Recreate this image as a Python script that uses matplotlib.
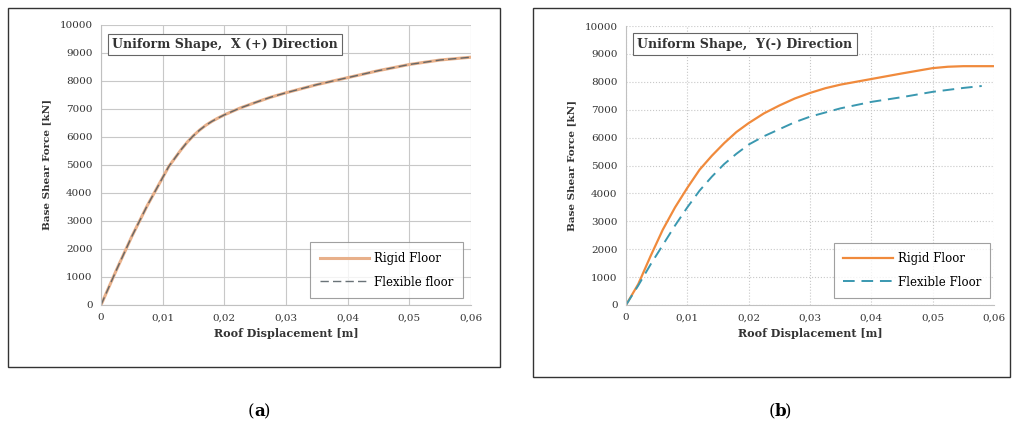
import matplotlib
matplotlib.use("Agg")
import matplotlib.pyplot as plt
from matplotlib.patches import Rectangle
from matplotlib.ticker import FuncFormatter

# ---- data ----
xa = [0, 0.0025, 0.005, 0.0075, 0.009, 0.01, 0.011, 0.012, 0.013, 0.014, 0.015, 0.016, 0.017, 0.018, 0.019,
      0.02, 0.0225, 0.025, 0.0275, 0.03, 0.035, 0.04, 0.045, 0.05, 0.055, 0.06]
ya_rigid = [0, 1250, 2450, 3550, 4150, 4550, 4950, 5250, 5550, 5820, 6050, 6250, 6420, 6560, 6680,
            6790, 7030, 7230, 7420, 7580, 7870, 8120, 8370, 8590, 8750, 8850]
ya_flex = [0, 1250, 2450, 3550, 4150, 4550, 4950, 5250, 5550, 5820, 6050, 6250, 6420, 6560, 6680,
           6790, 7030, 7230, 7420, 7580, 7870, 8120, 8370, 8590, 8750, 8850]

xb_rigid = [0, 0.002, 0.004, 0.006, 0.008, 0.01, 0.012, 0.014, 0.016, 0.018, 0.02, 0.0225, 0.025, 0.0275,
            0.03, 0.0325, 0.035, 0.04, 0.045, 0.05, 0.0525, 0.055, 0.06]
yb_rigid = [0, 750, 1750, 2700, 3500, 4200, 4850, 5350, 5800, 6200, 6520, 6870, 7150, 7400,
            7600, 7770, 7900, 8100, 8300, 8490, 8540, 8560, 8560]
xb_flex = [0, 0.002, 0.004, 0.006, 0.008, 0.01, 0.012, 0.014, 0.016, 0.018, 0.02, 0.0225, 0.025, 0.0275,
           0.03, 0.035, 0.04, 0.045, 0.05, 0.055, 0.058]
yb_flex = [0, 700, 1450, 2150, 2850, 3500, 4100, 4600, 5050, 5420, 5750, 6050, 6300, 6550,
           6750, 7050, 7280, 7450, 7640, 7780, 7850]

xticks = [0, 0.01, 0.02, 0.03, 0.04, 0.05, 0.06]
yticks = list(range(0, 10001, 1000))
titles = ["Uniform Shape,  X (+) Direction", "Uniform Shape,  Y(-) Direction"]
legend_a = ["Rigid Floor", "Flexible floor"]
legend_b = ["Rigid Floor", "Flexible Floor"]
panel_labels = ["a", "b"]

plt.rcParams['font.family'] = ['DejaVu Serif']
fig = plt.figure(figsize=(10.13, 4.32), dpi=100)
W, H = 1013, 432

def fr(x0, y0, x1, y1):
    return [x0 / W, 1 - y1 / H, (x1 - x0) / W, (y1 - y0) / H]

# outer frames
for (x0, y0, x1, y1) in [(8, 8, 500, 367), (533, 8, 1010, 377)]:
    fig.patches.append(Rectangle((x0 / W, 1 - y1 / H), (x1 - x0) / W, (y1 - y0) / H,
                                 transform=fig.transFigure, fill=False,
                                 edgecolor='#333333', linewidth=1.0))

fmt_x = FuncFormatter(lambda v, p: "0" if v == 0 else ("%.2f" % v).replace(".", ","))

def style(ax, grid_ls):
    ax.set_xlim(0, 0.06)
    ax.set_ylim(0, 10000)
    ax.set_xticks(xticks)
    ax.set_yticks(yticks)
    ax.xaxis.set_major_formatter(fmt_x)
    ax.tick_params(labelsize=7.5, length=0, pad=6, colors='#333333')
    ax.grid(True, color='#c8c8c8', linestyle=grid_ls, linewidth=0.8)
    for s in ['top', 'right']:
        ax.spines[s].set_visible(False)
    for s in ['left', 'bottom']:
        ax.spines[s].set_color('#c0c0c0')
    ax.set_xlabel("Roof Displacement [m]", fontsize=8, fontweight='bold', color='#333333', labelpad=4)
    ax.set_ylabel("Base Shear Force [kN]", fontsize=7.5, fontweight='bold', color='#333333', labelpad=6)
    ax.set_axisbelow(True)

# panel a
ax1 = fig.add_axes(fr(101, 25, 471, 305))
style(ax1, '-')
ax1.plot(xa, ya_rigid, color='#e8b08a', lw=2.2, label=legend_a[0])
ax1.plot(xa, ya_flex, color='#505a60', lw=1.0, dashes=(6, 3), label=legend_a[1], alpha=0.85)
ax1.text(0.03, 0.93, titles[0], transform=ax1.transAxes, fontsize=9, fontweight='bold',
         color='#333333', va='center', ha='left',
         bbox=dict(boxstyle='square,pad=0.35', fc='white', ec='#666666', lw=0.8))
leg = ax1.legend(loc='lower right', fontsize=8.5, frameon=True, fancybox=False,
                 edgecolor='#888888', borderpad=0.8, handlelength=4.2, labelspacing=0.9,
                 handletextpad=0.4, borderaxespad=0, bbox_to_anchor=(0.978, 0.025))
leg.get_frame().set_linewidth(0.8)

# panel b
ax2 = fig.add_axes(fr(626, 26, 994, 305))
style(ax2, ':')
ax2.plot(xb_rigid, yb_rigid, color='#f08a3c', lw=1.6, label=legend_b[0])
ax2.plot(xb_flex, yb_flex, color='#3a98b0', lw=1.4, dashes=(6, 3.5), label=legend_b[1])
ax2.text(0.03, 0.935, titles[1], transform=ax2.transAxes, fontsize=9, fontweight='bold',
         color='#333333', va='center', ha='left',
         bbox=dict(boxstyle='square,pad=0.35', fc='white', ec='#666666', lw=0.8))
leg2 = ax2.legend(loc='lower right', fontsize=8.5, frameon=True, fancybox=False,
                  edgecolor='#888888', borderpad=0.8, handlelength=4.2, labelspacing=0.9,
                  handletextpad=0.4, borderaxespad=0, bbox_to_anchor=(0.99, 0.025))
leg2.get_frame().set_linewidth(0.8)

# panel labels
for lab, xc in zip(panel_labels, [254, 775]):
    fig.text(xc / W, 1 - 412 / H, "(", fontsize=12, ha='right', va='center')
    fig.text(xc / W, 1 - 412 / H, lab, fontsize=12, fontweight='bold', ha='left', va='center')
    fig.text(xc / W + 0.0095, 1 - 412 / H, ")", fontsize=12, ha='left', va='center')

fig.savefig("out.png", dpi=100, facecolor='white')
